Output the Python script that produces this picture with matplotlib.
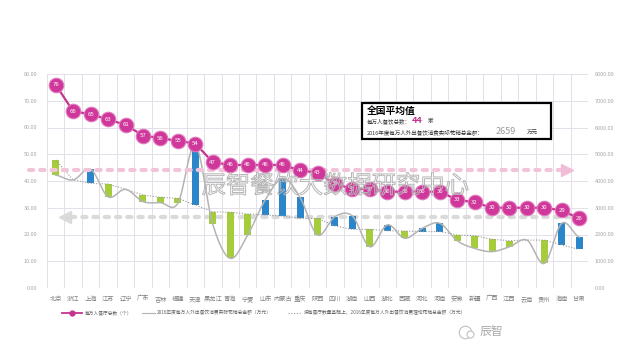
import numpy as np
import matplotlib
matplotlib.use('Agg')
import matplotlib.pyplot as plt
import matplotlib.patheffects as pe
from matplotlib.patches import Rectangle
from matplotlib.lines import Line2D

plt.rcParams['font.family'] = ['Noto Sans CJK SC', 'DejaVu Sans']

# data
provinces = ['北京', '浙江', '上海', '江苏', '辽宁', '广东', '吉林', '福建', '天津', '黑龙江',
             '青海', '宁夏', '山东', '内蒙古', '重庆', '陕西', '四川', '湖南', '山西', '湖北',
             '西藏', '河北', '河南', '安徽', '新疆', '广西', '江西', '云南', '贵州', '海南', '甘肃']
shops = [76, 66, 65, 63, 61, 57, 56, 55, 54, 47, 46, 46, 46, 46, 44, 43, 39, 37, 37, 36,
         36, 36, 36, 33, 32, 30, 30, 30, 30, 29, 26]
# actual spend per 10k people (万元)
actual = [4220, 4040, 4440, 3410, 3690, 3230, 3190, 3170, 5350, 2380, 1110, 1980, 3290, 4100,
          3390, 1980, 2670, 2690, 1540, 2360, 1860, 2230, 2420, 1770, 1480, 1360, 1540, 1790,
          920, 2420, 1900]
# theoretical spend based on shop count (万元)
theory = [4790, 4040, 3910, 3890, 3690, 3480, 3390, 3350, 3100, 2850, 2830, 2770, 2730, 2690,
          2600, 2600, 2320, 2190, 2190, 2140, 2130, 2110, 2110, 1980, 1960, 1820, 1770, 1790,
          1790, 1610, 1440]
avg_shops = 44
avg_spend = 2659

W, H = 640, 360
def px(x, y):
    return x / W, 1 - y / H

def catmull(xs, ys, n=24):
    xs = np.asarray(xs, float); ys = np.asarray(ys, float)
    ox, oy = [], []
    for i in range(len(ys) - 1):
        p0 = ys[i - 1] if i > 0 else ys[i]
        p3 = ys[i + 2] if i + 2 < len(ys) else ys[i + 1]
        m1 = (ys[i + 1] - p0) / 2
        m2 = (p3 - ys[i]) / 2
        t = np.linspace(0, 1, n)
        h00 = 2*t**3 - 3*t**2 + 1
        h10 = t**3 - 2*t**2 + t
        h01 = -2*t**3 + 3*t**2
        h11 = t**3 - t**2
        oy.append(h00*ys[i] + h10*m1 + h01*ys[i + 1] + h11*m2)
        ox.append(xs[i] + t*(xs[i + 1] - xs[i]))
    return np.concatenate(ox), np.concatenate(oy)

fig = plt.figure(figsize=(6.4, 3.6), dpi=100)
fig.set_facecolor('white')
ax2 = fig.add_axes([47/W, 72/H, 541/W, 214/H])
ax = ax2.twinx()
ax.yaxis.tick_left()
ax2.yaxis.tick_right()
ax.set_zorder(ax2.get_zorder() + 1)
ax.patch.set_visible(False)

x = np.arange(len(provinces))
ax2.set_xlim(-0.5, len(provinces) - 0.5)
ax2.set_ylim(0, 8000)
ax.set_ylim(0, 80)

grid_c = '#e4e0ea'
for b in np.arange(-0.5, len(provinces)):
    ax2.axvline(b, color=grid_c, lw=0.7, zorder=0)
for v in range(0, 8001, 1000):
    ax2.axhline(v, color=grid_c, lw=0.7, zorder=0)

for s in ['top', 'bottom', 'left', 'right']:
    ax.spines[s].set_visible(False)
    ax2.spines[s].set_visible(False)

# grey average spend line with arrow to the left
ax2.plot([0.9, 30.5], [avg_spend, avg_spend], color='#dadada', lw=3.0,
         ls=(0, (1, 1.7)), solid_capstyle='round', dash_capstyle='round', zorder=1)
ax2.plot([0.55], [avg_spend], marker='<', ms=8, color='#dadada', zorder=1)

# floating bars between theory and actual
act = np.array(actual); th = np.array(theory)
cols = ['#2b86c9' if a > t else '#a5cd3b' for a, t in zip(act, th)]
ax2.bar(x, act - th, bottom=th, width=0.4, color=cols, zorder=2)

# theory dotted, actual smooth
ax2.plot(x, th, color='#9a9a9a', lw=0.8, ls=(0, (1, 1.5)), zorder=3)
sx, sy = catmull(x, act)
ax2.plot(sx, sy, color='#b4b4b4', lw=1.1, zorder=3)

# pink average shop line with arrow to the right
ax.plot([-1.55, 28.9], [avg_shops, avg_shops], color='#f1c4da', lw=3.0,
        ls=(0, (1, 1.7)), dash_capstyle='round', clip_on=False, zorder=1)
ax.plot([29.3], [avg_shops], marker='>', ms=8, color='#f1bcd6', clip_on=False, zorder=1)

# shops per 10k people
ax.plot(x, shops, color='#c5358f', lw=1.6, marker='o', ms=10.5, mfc='#d0379a',
        mec='#e07bbd', mew=0.8, zorder=5)
for i, v in enumerate(shops):
    ax.text(i, v, str(v), ha='center', va='center', color='white', fontsize=4.3, zorder=6)

# ticks
ax.set_yticks(range(0, 81, 10))
ax.set_yticklabels([f'{v:.2f}' for v in range(0, 81, 10)], fontsize=4, color='#a8a8a8')
ax2.set_yticks(range(0, 8001, 1000))
ax2.set_yticklabels([f'{v:.2f}' for v in range(0, 8001, 1000)], fontsize=4, color='#a8a8a8')
ax.tick_params(axis='y', length=0, pad=7)
ax2.tick_params(axis='y', length=0, pad=5)
ax2.set_xticks(x)
ax2.set_xticklabels(provinces, fontsize=4.5, color='#808080')
ax2.tick_params(axis='x', length=0, pad=5)

# watermark
fig.text(*px(335, 186), '辰智餐饮大数据研究中心', fontsize=17.5, ha='center', va='center',
         color=(1, 1, 1, 0), zorder=10,
         path_effects=[pe.withStroke(linewidth=0.7, foreground='#b5b5b5')])

# national average box
bx0, by0 = px(362, 139)
bx1, by1 = px(551, 103)
fig.add_artist(Rectangle((bx0, by0), bx1 - bx0, by1 - by0, transform=fig.transFigure,
                         facecolor='white', edgecolor='black', lw=1.6, zorder=8))
fig.text(*px(367, 111), '全国平均值', fontsize=7, fontweight='bold', va='center', zorder=9)
fig.text(*px(367, 121.5), '每万人餐饮总数：', fontsize=4, va='center', color='#333333', zorder=9)
fig.text(*px(412, 120.5), '44', fontsize=6.5, fontweight='bold', va='center', color='#c2338f', zorder=9)
fig.text(*px(428, 121.5), '家', fontsize=4, va='center', color='#333333', zorder=9)
fig.text(*px(367, 132), '2016年度每万人外出餐饮消费实际花销总金额：', fontsize=4, va='center',
         color='#333333', zorder=9)
fig.text(*px(496, 131), '2659', fontsize=6.5, va='center', color='#9a9a9a', zorder=9)
fig.text(*px(527, 132), '万元', fontsize=4, va='center', color='#333333', zorder=9)

# legend
ly = 313
fig.add_artist(Line2D([62/W, 82/W], [1 - ly/H] * 2, color='#c5358f', lw=1.3))
fig.add_artist(Line2D([72/W], [1 - ly/H], marker='o', ms=3.5, color='#c5358f'))
fig.text(*px(85, ly), '每万人餐厅总数（个）', fontsize=3.4, va='center', color='#666666')
fig.add_artist(Line2D([142/W, 155/W], [1 - ly/H] * 2, color='#b4b4b4', lw=0.8))
fig.text(*px(157, ly), '2016年度每万人外出餐饮消费实际花销总金额（万元）', fontsize=3.4,
         va='center', color='#666666')
fig.add_artist(Line2D([288/W, 302/W], [1 - ly/H] * 2, color='#9a9a9a', lw=0.8, ls=(0, (1, 1.5))))
fig.text(*px(304, ly), '按每餐厅数量基础上，2016年度每万人外出餐饮消费理论花销总金额（万元）',
         fontsize=3.4, va='center', color='#666666')

# logo
fig.add_artist(Line2D([465/W], [1 - 332/H], marker='o', ms=9, mfc='none', mec='#c0c0c0', mew=0.8))
fig.add_artist(Line2D([470/W], [1 - 334/H], marker='o', ms=5, mfc='white', mec='#c0c0c0', mew=0.8))
fig.text(*px(480, 332), '辰智', fontsize=8.5, va='center', color='#a8a8a8')

fig.savefig('out.png', dpi=100)
